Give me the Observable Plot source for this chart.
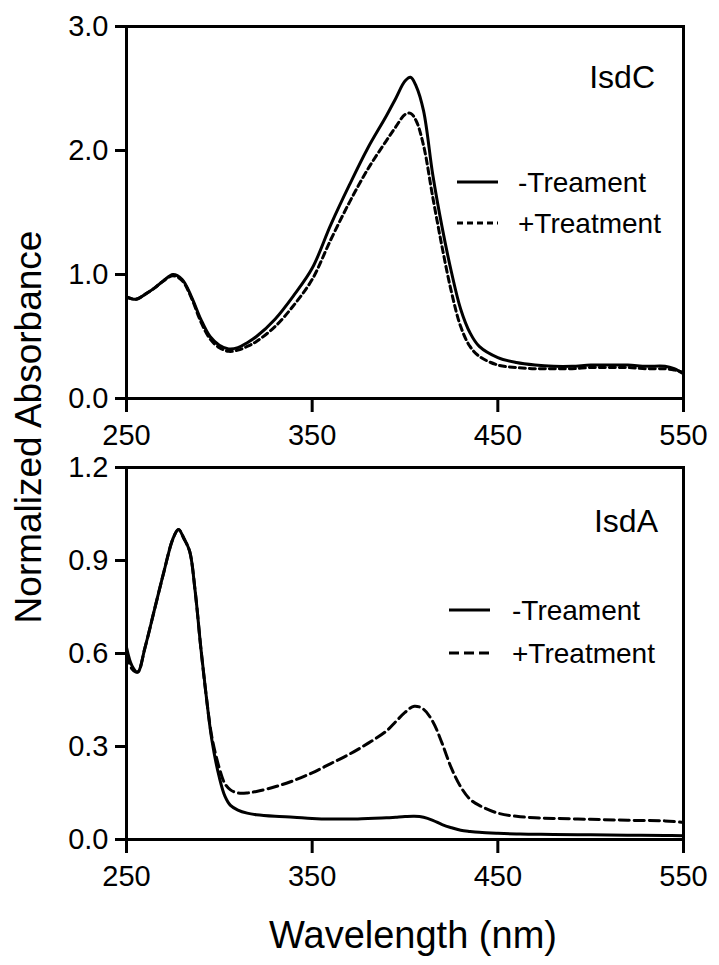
<!DOCTYPE html>
<html><head><meta charset="utf-8">
<script src="https://cdn.jsdelivr.net/npm/d3@7"></script>
<script src="https://cdn.jsdelivr.net/npm/@observablehq/plot@0.6"></script>
<style>
body{margin:0;background:#fff;}
#fig{position:relative;width:719px;height:965px;font-family:"Liberation Sans",Arial,sans-serif;overflow:hidden;}
#fig svg{position:absolute;left:0;}
#ylab{position:absolute;left:29px;top:427px;transform:translate(-50%,-50%) rotate(-90deg);font-size:37px;white-space:nowrap;color:#000;}
</style></head><body><div id="fig"><div id="ylab"></div></div>
<script>
// ---- data ----
const panelNames = ["IsdC", "IsdA"];
const seriesNames = ["-Treament", "+Treatment"];
const xLabel = "Wavelength (nm)";
const yLabel = "Normalized Absorbance";
const xTicks = [250, 350, 450, 550];
const yTicksC = [0, 1, 2, 3];
const yTicksA = [0, 0.3, 0.6, 0.9, 1.2];

const wavelengthC = [250,255,260,265,270,275,280,285,290,295,300,305,310,315,320,330,340,350,360,370,380,390,395,400,403,406,410,415,420,425,430,435,440,450,460,470,480,490,500,510,520,530,540,545,550];
const isdCMinus = [0.82,0.80,0.84,0.89,0.95,1.00,0.96,0.82,0.64,0.50,0.43,0.40,0.41,0.45,0.50,0.64,0.83,1.05,1.40,1.72,2.02,2.28,2.42,2.56,2.59,2.52,2.32,1.80,1.38,1.02,0.72,0.53,0.42,0.33,0.29,0.27,0.26,0.26,0.27,0.27,0.27,0.26,0.26,0.24,0.20];
const isdCPlus  = [0.82,0.80,0.84,0.89,0.95,0.99,0.95,0.81,0.62,0.48,0.41,0.38,0.39,0.42,0.46,0.58,0.75,0.96,1.28,1.58,1.85,2.08,2.19,2.29,2.30,2.24,2.04,1.62,1.22,0.86,0.58,0.42,0.34,0.27,0.25,0.24,0.24,0.24,0.25,0.25,0.25,0.24,0.24,0.23,0.21];

const wavelengthA = [250,253,256,260,265,270,275,278,281,284,287,290,293,296,300,303,306,310,315,320,330,340,350,360,370,380,390,395,400,405,410,415,420,425,430,435,440,450,460,470,480,500,520,540,550];
const isdAMinus = [0.62,0.56,0.54,0.62,0.74,0.86,0.97,1.00,0.97,0.93,0.80,0.62,0.46,0.32,0.20,0.14,0.11,0.095,0.085,0.080,0.075,0.072,0.068,0.066,0.066,0.068,0.070,0.072,0.074,0.075,0.072,0.062,0.048,0.038,0.030,0.026,0.023,0.020,0.018,0.017,0.016,0.015,0.014,0.013,0.012];
const isdAPlus  = [0.60,0.55,0.54,0.62,0.74,0.86,0.97,1.00,0.97,0.93,0.80,0.62,0.46,0.33,0.23,0.18,0.16,0.15,0.15,0.155,0.17,0.19,0.215,0.245,0.275,0.31,0.35,0.38,0.41,0.43,0.42,0.38,0.31,0.23,0.17,0.13,0.11,0.085,0.075,0.07,0.068,0.065,0.062,0.06,0.055];

// ---- helpers ----
const FONT = "'Liberation Sans', Arial, sans-serif";
function toRows(xs, ys, s) { return xs.map((x, i) => ({x, y: ys[i], s})); }

function legendMark(title, dash, o) {
  return (...args) => {
    const dims = args.find(a => a && a.marginTop !== undefined && a.width !== undefined) || {width: 719, marginRight: 36, marginTop: 26};
    const right = dims.width - dims.marginRight;
    const y0 = dims.marginTop;
    const g = d3.create("svg:g").attr("font-family", FONT).attr("fill", "black");
    g.append("text").attr("x", right - o.titleDx).attr("y", y0 + o.titleDy)
      .attr("text-anchor", "end").attr("font-size", 32).text(title);
    seriesNames.forEach((name, i) => {
      const yy = y0 + o.rowY[i];
      g.append("line").attr("x1", right - o.lineX0).attr("x2", right - o.lineX1)
        .attr("y1", yy).attr("y2", yy).attr("stroke", "black").attr("stroke-width", 3)
        .attr("stroke-dasharray", i === 0 ? null : dash);
      g.append("text").attr("x", right - o.textX).attr("y", yy + 10)
        .attr("text-anchor", "start").attr("font-size", 28).text(name);
    });
    return g.node();
  };
}

function panel({rows, yDomain, yTicks, height, marginBottom, dash, legend, extra = []}) {
  return Plot.plot({
    width: 719, height,
    marginLeft: 126, marginRight: 36, marginTop: 26, marginBottom,
    style: {fontFamily: FONT, fontSize: "29px", background: "transparent", color: "black", overflow: "visible"},
    x: {domain: [250, 550]},
    y: {domain: yDomain},
    marks: [
      Plot.lineY(rows.filter(d => d.s === seriesNames[0]), {x: "x", y: "y", stroke: "black", strokeWidth: 3, curve: "catmull-rom"}),
      Plot.lineY(rows.filter(d => d.s === seriesNames[1]), {x: "x", y: "y", stroke: "black", strokeWidth: 3, strokeDasharray: dash, curve: "catmull-rom"}),
      Plot.frame({stroke: "black", strokeWidth: 3}),
      Plot.axisX({ticks: xTicks, tickFormat: d => String(d), tickSize: 14, tickPadding: 12, strokeWidth: 3, fontSize: 29, label: null}),
      Plot.axisY({ticks: yTicks, tickFormat: d3.format(".1f"), tickSize: 11, tickPadding: 7, strokeWidth: 3, fontSize: 29, label: null}),
      legend,
      ...extra
    ]
  });
}

const fig = document.getElementById("fig");
document.getElementById("ylab").textContent = yLabel;

const topPanel = panel({
  rows: [...toRows(wavelengthC, isdCMinus, seriesNames[0]), ...toRows(wavelengthC, isdCPlus, seriesNames[1])],
  yDomain: [0, 3], yTicks: yTicksC, height: 441, marginBottom: 43, dash: "6,4",
  legend: legendMark(panelNames[0], "6,4", {titleDx: 28, titleDy: 62, rowY: [156, 197], lineX0: 226, lineX1: 185, textX: 165})
});
topPanel.style.top = "0px";
fig.appendChild(topPanel);

const bottomPanel = panel({
  rows: [...toRows(wavelengthA, isdAMinus, seriesNames[0]), ...toRows(wavelengthA, isdAPlus, seriesNames[1])],
  yDomain: [0, 1.2], yTicks: yTicksA, height: 524, marginBottom: 126, dash: "10,5",
  legend: legendMark(panelNames[1], "10,5", {titleDx: 25, titleDy: 65, rowY: [143, 186], lineX0: 234, lineX1: 193, textX: 171}),
  extra: [Plot.text([xLabel], {text: d => d, frameAnchor: "bottom", dx: 8, dy: 108, lineAnchor: "bottom", fontSize: 38, fill: "black"})]
});
bottomPanel.style.top = "441px";
fig.appendChild(bottomPanel);
</script>
</body></html>
